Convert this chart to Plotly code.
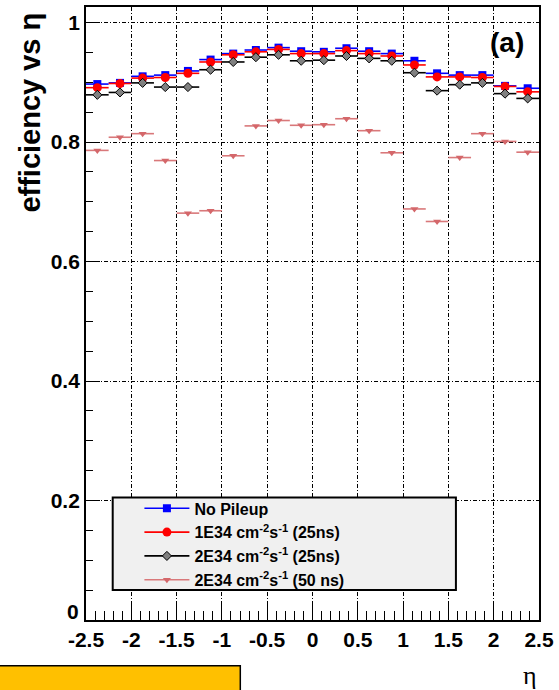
import plotly.graph_objects as go

# ---------------- data ----------------
eta_centers = [-2.375, -2.125, -1.875, -1.625, -1.375, -1.125, -0.875, -0.625, -0.375, -0.125,
               0.125, 0.375, 0.625, 0.875, 1.125, 1.375, 1.625, 1.875, 2.125, 2.375]
bin_half_width = 0.125

eff_no_pileup = [0.897, 0.899, 0.910, 0.912, 0.919, 0.938, 0.948, 0.954, 0.958, 0.952,
                 0.951, 0.957, 0.952, 0.948, 0.936, 0.915, 0.912, 0.912, 0.894, 0.890]
eff_1e34_25ns = [0.891, 0.898, 0.907, 0.908, 0.915, 0.934, 0.946, 0.951, 0.955, 0.948,
                 0.948, 0.953, 0.948, 0.944, 0.929, 0.909, 0.909, 0.908, 0.893, 0.884]
eff_2e34_25ns = [0.879, 0.883, 0.899, 0.892, 0.892, 0.921, 0.934, 0.942, 0.946, 0.936,
                 0.937, 0.944, 0.940, 0.936, 0.916, 0.886, 0.896, 0.899, 0.881, 0.873]
eff_2e34_50ns = [0.786, 0.808, 0.814, 0.769, 0.681, 0.685, 0.777, 0.827, 0.836, 0.828,
                 0.829, 0.839, 0.819, 0.782, 0.688, 0.667, 0.774, 0.814, 0.801, 0.783]

series_names = ["No Pileup",
                "1E34 cm<sup>-2</sup>s<sup>-1</sup> (25ns)",
                "2E34 cm<sup>-2</sup>s<sup>-1</sup> (25ns)",
                "2E34 cm<sup>-2</sup>s<sup>-1</sup> (50 ns)"]

x_tickvals = [-2.5, -2, -1.5, -1, -0.5, 0, 0.5, 1, 1.5, 2, 2.5]
x_ticktext = ["-2.5", "-2", "-1.5", "-1", "-0.5", "0", "0.5", "1", "1.5", "2", "2.5"]
y_tickvals = [0, 0.2, 0.4, 0.6, 0.8, 1]
y_ticktext = ["", "0.2", "0.4", "0.6", "0.8", "1"]
y_zero_label = "0"

# ---------------- styles ----------------
W, H = 559, 690
L, R, T, B = 86, 15, 5, 70
PW, PH = W - L - R, H - T - B

def px_x(p):
    return (p - L) / PW

def px_y(p):
    return (H - B - p) / PH

styles = [
    dict(color="#0000ff", symbol="square", size=8, line=dict(width=0)),
    dict(color="#ff0000", symbol="circle", size=9, line=dict(width=0)),
    dict(color="#808080", symbol="diamond", size=7, line=dict(width=1, color="#000000")),
    dict(color="#d4676a", symbol="triangle-down", size=7, line=dict(width=0)),
]
line_colors = ["#0000ff", "#ff0000", "#000000", "#d9787a"]
all_series = [eff_no_pileup, eff_1e34_25ns, eff_2e34_25ns, eff_2e34_50ns]

fig = go.Figure()

for vals, st, lc, name in zip(all_series, styles, line_colors, series_names):
    fig.add_trace(go.Scatter(
        x=eta_centers, y=vals, mode="markers", name=name, showlegend=False,
        marker=st,
        error_x=dict(type="constant", value=bin_half_width, width=0, thickness=1.6, color=lc),
    ))

# legend entries
for st, lc, name in zip(styles, line_colors, series_names):
    fig.add_trace(go.Scatter(
        x=[None], y=[None], mode="lines+markers", name=name, showlegend=True,
        marker=st, line=dict(color=lc, width=1.6),
    ))

grid_dash = "4px,2px,1px,2px"
font_bold = "Liberation Sans"

fig.update_layout(
    width=W, height=H,
    margin=dict(l=L, r=R, t=T, b=B),
    plot_bgcolor="white", paper_bgcolor="white",
    font=dict(family=font_bold, color="black"),
    showlegend=True,
    legend=dict(
        x=px_x(140), y=px_y(491), xanchor="left", yanchor="top",
        bgcolor="rgba(0,0,0,0)", borderwidth=0,
        font=dict(family=font_bold, size=16, color="black", weight="bold"),
        itemwidth=45, tracegroupgap=0,
    ),
    xaxis=dict(
        range=[-2.5, 2.5], tickvals=x_tickvals, ticktext=x_ticktext,
        showgrid=True, gridcolor="black", gridwidth=1, griddash=grid_dash,
        zeroline=False, showline=True, linecolor="black", linewidth=1.8, mirror=True,
        ticks="inside", ticklen=18, tickwidth=1, tickcolor="black",
        minor=dict(dtick=0.1, ticks="inside", ticklen=9, tickwidth=1, tickcolor="black", showgrid=False),
        tickfont=dict(family=font_bold, size=21, weight="bold"),
        ticklabeloverflow="allow",
    ),
    yaxis=dict(
        range=[0, 1.026], tickvals=y_tickvals, ticktext=y_ticktext,
        showgrid=True, gridcolor="black", gridwidth=1, griddash=grid_dash,
        zeroline=False, showline=True, linecolor="black", linewidth=1.8, mirror=True,
        ticks="inside", ticklen=14, tickwidth=1, tickcolor="black",
        minor=dict(dtick=0.05, ticks="inside", ticklen=7, tickwidth=1, tickcolor="black", showgrid=False),
        tickfont=dict(family=font_bold, size=21, weight="bold"),
    ),
)

# legend box
fig.add_shape(type="rect", xref="paper", yref="paper",
              x0=px_x(113), x1=px_x(460), y0=px_y(590), y1=px_y(497),
              fillcolor="#f0f0f0", line=dict(color="black", width=2), layer="above")

# yellow box at bottom left
fig.add_shape(type="rect", xref="paper", yref="paper",
              x0=px_x(-2), x1=px_x(242), y0=px_y(700), y1=px_y(666),
              fillcolor="#ffc000", line=dict(color="black", width=1.5), layer="above")

# y zero label (raised as in the original)
fig.add_annotation(text=y_zero_label, showarrow=False, xref="paper", yref="paper",
                   x=px_x(81), y=px_y(611), xanchor="right", yanchor="middle",
                   font=dict(family=font_bold, size=21, weight="bold", color="black"))

# axis titles and panel label
fig.add_annotation(text="efficiency vs η", textangle=-90, showarrow=False,
                   xref="paper", yref="paper", x=px_x(29), y=px_y(9),
                   xanchor="center", yanchor="top",
                   font=dict(family=font_bold, size=29, weight="bold", color="black"))
fig.add_annotation(text="η", showarrow=False, xref="paper", yref="paper",
                   x=px_x(535), y=px_y(676), xanchor="center", yanchor="middle",
                   font=dict(family="Liberation Serif", size=26, color="black"))
fig.add_annotation(text="(a)", showarrow=False, xref="paper", yref="paper",
                   x=px_x(512), y=px_y(41), xanchor="center", yanchor="middle",
                   font=dict(family=font_bold, size=28, weight="bold", color="black"))

fig.write_html("out.html", config={"displayModeBar": False},
               post_script="document.body.style.margin='0';document.body.style.overflow='hidden';")
